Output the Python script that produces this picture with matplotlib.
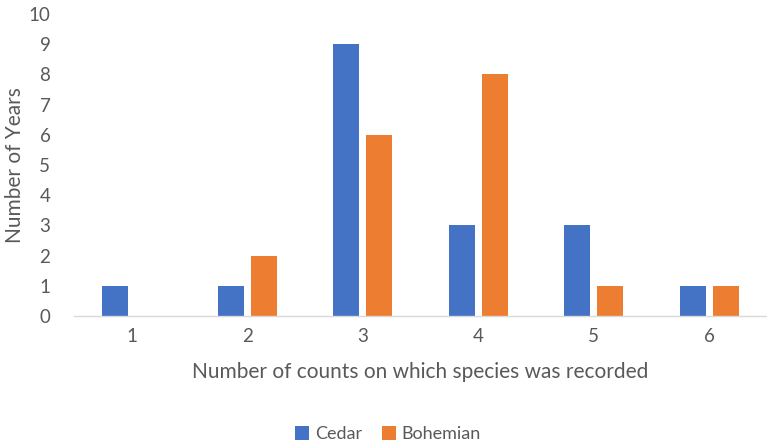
import numpy as np
import matplotlib
matplotlib.use("Agg")
import matplotlib.pyplot as plt

# data
categories = ["1", "2", "3", "4", "5", "6"]
cedar = [1, 1, 9, 3, 3, 1]
bohemian = [0, 2, 6, 8, 1, 1]

text_color = "#595959"
plt.rcParams['font.family'] = ['Lato', 'DejaVu Sans']

fig = plt.figure(figsize=(7.67, 4.48), dpi=100)
ax = fig.add_axes([74 / 767, 132 / 448, 693 / 767, 302 / 448])

x = np.arange(1, len(categories) + 1)
w = 0.225
off = 0.143
ax.bar(x - off, cedar, width=w, color="#4472C4", label="Cedar")
ax.bar(x + off, bohemian, width=w, color="#ED7D31", label="Bohemian")

ax.set_xlim(0.5, 6.5)
ax.set_ylim(0, 10)
ax.set_xticks(x)
ax.set_xticklabels(categories)
ax.set_yticks(range(0, 11))

for s in ["top", "right", "left"]:
    ax.spines[s].set_visible(False)
ax.spines["bottom"].set_color("#d9d9d9")
ax.spines["bottom"].set_linewidth(1.0)
ax.tick_params(axis="both", length=0, colors=text_color, labelsize=13.5)
ax.tick_params(axis="y", pad=17)
ax.tick_params(axis="x", pad=9)

ax.set_xlabel("Number of counts on which species was recorded", fontsize=15,
              color=text_color, labelpad=12)
fig.text(15 / 767, 1 - 165 / 448, "Number of Years", rotation=90,
         ha="center", va="center", fontsize=15, color=text_color)

fig.legend(loc="center", bbox_to_anchor=(388 / 767, 1 - 434 / 448), ncol=2,
           frameon=False, fontsize=13, labelcolor=text_color,
           handlelength=0.8, handleheight=0.8, handletextpad=0.3,
           columnspacing=1.1)

fig.savefig("out.png", dpi=100)
